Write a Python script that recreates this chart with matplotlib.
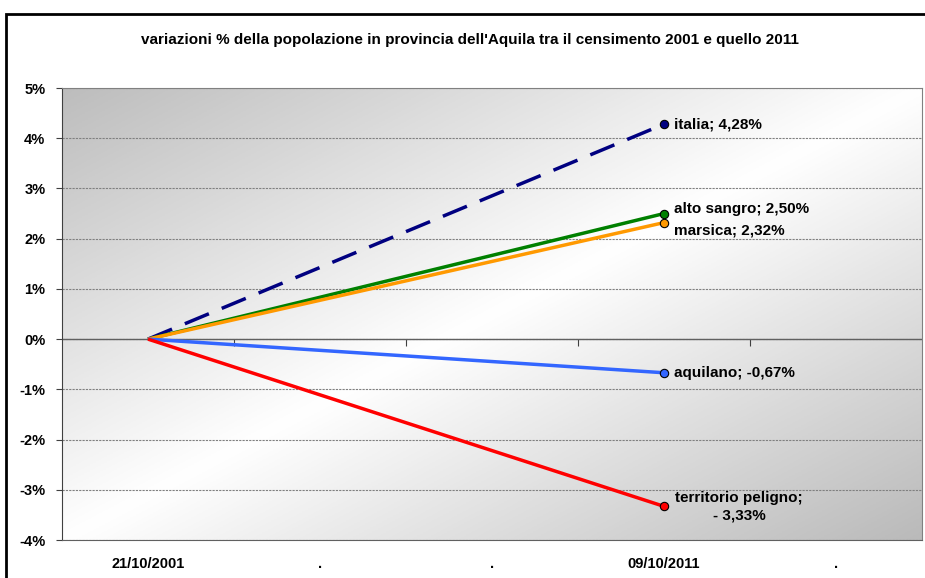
import numpy as np
import matplotlib
matplotlib.use("Agg")
import matplotlib.pyplot as plt
from matplotlib.patches import Rectangle
from matplotlib.colors import LinearSegmentedColormap

plt.rcParams['font.family'] = ['Liberation Sans', 'DejaVu Sans']

categories = ["21/10/2001", ".", ".", "09/10/2011", "."]
series_names = ["italia", "alto sangro", "marsica", "aquilano", "territorio peligno"]
start_values = [0.0, 0.0, 0.0, 0.0, 0.0]
end_values = [4.28, 2.50, 2.32, -0.67, -3.33]
label_texts = ["italia; 4,28%", "alto sangro; 2,50%", "marsica; 2,32%",
               "aquilano; -0,67%", "territorio peligno;\n- 3,33%"]
colors = ["#000080", "#008000", "#FF9900", "#3366FF", "#FF0000"]
yticks = [-4, -3, -2, -1, 0, 1, 2, 3, 4, 5]

W, H = 925, 578
fig = plt.figure(figsize=(W / 100, H / 100), dpi=100)
fig.patch.set_facecolor("white")
fig.patches.append(Rectangle((6 / W, -0.1), 1.2, 1.1 - 14 / H, transform=fig.transFigure,
                             fill=False, edgecolor="black", linewidth=2.0, zorder=0))

ax = fig.add_axes([62 / W, 1 - 540 / H, (922 - 62) / W, (540 - 88) / H])

# gradient background
n = 300
xx, yy = np.meshgrid(np.linspace(0, 1, n), np.linspace(0, 1, n))
t = (xx + yy) / 2.0
cmap = LinearSegmentedColormap.from_list("g", [(0, "#bdbdbd"), (0.5, "#ffffff"), (1, "#bababa")])
ax.imshow(t, cmap=cmap, extent=[0, 1, 0, 1], transform=ax.transAxes, aspect="auto",
          origin="upper", zorder=0, vmin=0, vmax=1)

x0, x1 = 0, 3
for i, name in enumerate(series_names):
    ls = (0, (7.5, 4)) if name == "italia" else "-"
    ax.plot([x0, x1], [start_values[i], end_values[i]], color=colors[i], linewidth=2.5,
            linestyle=ls, zorder=3, solid_capstyle="butt", dash_capstyle="butt")
    ax.plot([x1], [end_values[i]], marker="o", markersize=6, markerfacecolor=colors[i],
            markeredgecolor="black", markeredgewidth=0.8, linestyle="none", zorder=4)

for i, txt in enumerate(label_texts):
    if series_names[i] == "territorio peligno":
        ax.annotate(txt, (x1, end_values[i]), xytext=(54, 0), textcoords="offset points",
                    ha="center", va="center", fontsize=11, fontweight="bold", linespacing=1.3)
    elif series_names[i] == "marsica":
        ax.annotate(txt, (x1, end_values[i]), xytext=(7, -6), textcoords="offset points",
                    ha="left", va="center", fontsize=11, fontweight="bold")
    elif series_names[i] == "alto sangro":
        ax.annotate(txt, (x1, end_values[i]), xytext=(7, 3), textcoords="offset points",
                    ha="left", va="center", fontsize=11, fontweight="bold")
    else:
        ax.annotate(txt, (x1, end_values[i]), xytext=(7, 0), textcoords="offset points",
                    ha="left", va="center", fontsize=11, fontweight="bold")

ax.set_xlim(-0.5, len(categories) - 0.5)
ax.set_ylim(-4, 5)
ax.set_yticks(yticks)
ax.set_yticklabels([f"{v}%" for v in yticks], fontsize=10.5, fontweight="bold")
ax.yaxis.grid(True, color="#808080", linewidth=0.8, linestyle=(0, (2, 1)), zorder=1)
ax.axhline(0, color="#606060", linewidth=1.0, zorder=2)
ax.tick_params(axis="y", length=4, width=0.8, color="#404040", pad=8)

ax.set_xticks(range(len(categories)))
ax.set_xticklabels(categories, fontsize=10.5, fontweight="bold")
ax.tick_params(axis="x", length=0, pad=12)

sec = ax.secondary_xaxis(4 / 9)
sec.set_xticks([0.5, 1.5, 2.5, 3.5])
sec.set_xticklabels([])
sec.tick_params(axis="x", direction="out", length=5, width=0.8, color="#404040")
sec.spines["bottom"].set_visible(False)

for s in ["top", "right"]:
    ax.spines[s].set_color("#808080")
    ax.spines[s].set_linewidth(0.8)
ax.spines["left"].set_color("#404040")
ax.spines["bottom"].set_color("#606060")

fig.text(470 / W, 1 - 40 / H,
         "variazioni % della popolazione in provincia dell'Aquila tra il censimento 2001 e quello 2011",
         ha="center", va="center", fontsize=11, fontweight="bold")

fig.savefig("out.png", dpi=100)
